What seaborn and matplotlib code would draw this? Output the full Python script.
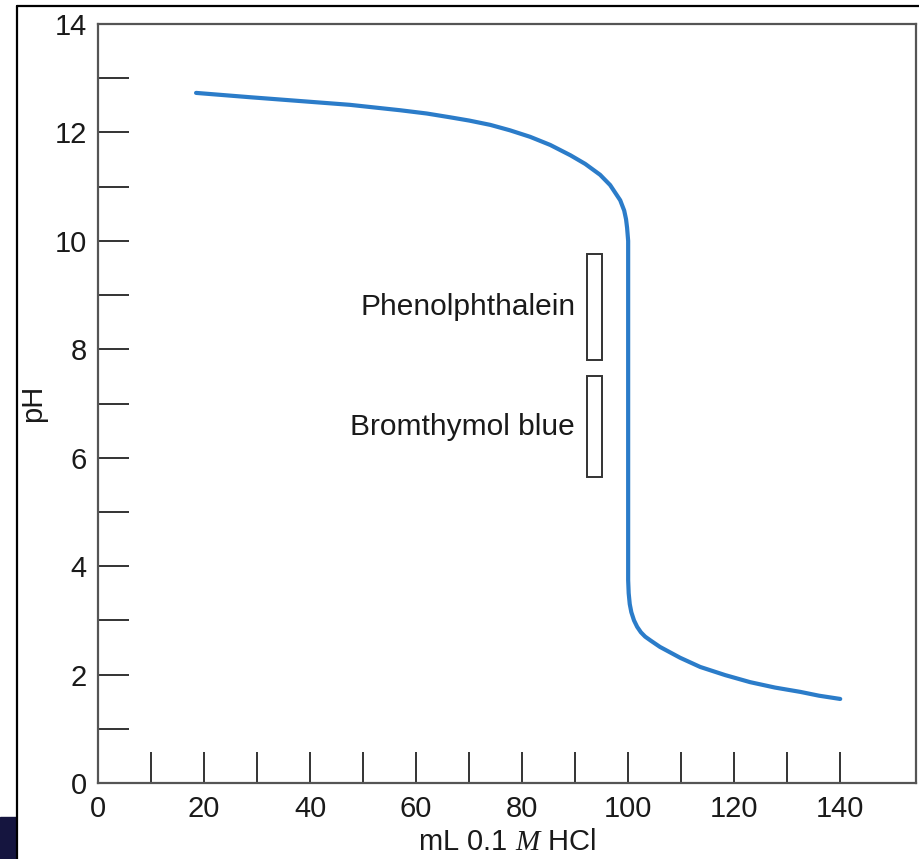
import matplotlib
matplotlib.use("Agg")
import matplotlib.pyplot as plt
from matplotlib.lines import Line2D
from matplotlib.patches import Rectangle
from matplotlib.ticker import MultipleLocator, FixedLocator
import pandas as pd
import seaborn as sns

# titration curve (mL HCl added, pH)
ml_hcl = [18.5, 28.7, 38.1, 47.5, 57.0, 62.0, 66.4, 70.0, 74.0, 77.7, 81.5,
          85.3, 89.1, 91.9, 94.7, 96.6, 98.5, 99.25, 99.6, 99.8, 100, 100,
          100.1, 100.3, 100.6, 101.1, 101.7, 102.4, 103.2, 104.2, 106, 109.8,
          113.6, 118.3, 123, 127.7, 132.5, 136, 140]
ph = [12.73, 12.65, 12.58, 12.51, 12.41, 12.35, 12.28, 12.22, 12.14, 12.04,
      11.92, 11.77, 11.58, 11.42, 11.22, 11.03, 10.75, 10.56, 10.4, 10.24,
      10.0, 3.74, 3.5, 3.3, 3.15, 3.0, 2.88, 2.78, 2.7, 2.63, 2.51, 2.31,
      2.14, 1.99, 1.86, 1.76, 1.68, 1.61, 1.55]

# indicator transition ranges
indicators = ["Phenolphthalein", "Bromthymol blue"]
ph_low = [7.8, 5.65]
ph_high = [9.75, 7.5]

x_major = [0, 20, 40, 60, 80, 100, 120, 140]
x_minor = [10, 30, 50, 70, 90, 110, 130]

df = pd.DataFrame({"ml": ml_hcl, "ph": ph})

sns.set_theme(style="white")
plt.rcParams["font.family"] = ["Liberation Sans", "DejaVu Sans"]
plt.rcParams["mathtext.fontset"] = "custom"
plt.rcParams["mathtext.it"] = "Liberation Serif:italic"
plt.rcParams["mathtext.rm"] = "Liberation Sans"

fig = plt.figure(figsize=(9.2, 8.59), dpi=100)
ax = fig.add_axes([0.1065, 0.0885, 0.8892, 0.8835])

sns.lineplot(data=df, x="ml", y="ph", sort=False, estimator=None,
             color="#2b7cc9", linewidth=3, ax=ax)

box_x, box_w = 92.2, 2.9
for name, lo, hi in zip(indicators, ph_low, ph_high):
    ax.add_patch(Rectangle((box_x, lo), box_w, hi - lo, fill=False,
                           edgecolor="#333333", linewidth=1.4))
    ax.text(box_x - 2.2, (lo + hi) / 2, name, ha="right", va="center",
            fontsize=21.5, color="#1a1a1a")

ax.set_xlim(0, 154.3)
ax.set_ylim(0, 14)
ax.xaxis.set_major_locator(FixedLocator(x_major))
ax.xaxis.set_minor_locator(FixedLocator(x_minor))
ax.yaxis.set_major_locator(MultipleLocator(2))
ax.yaxis.set_minor_locator(MultipleLocator(1))
ax.tick_params(which="both", direction="in", length=22, width=1.4,
               color="#333333", labelsize=21, labelcolor="#1a1a1a",
               bottom=True, left=True, top=False, right=False)
ax.tick_params(axis="y", pad=8)
ax.tick_params(axis="x", pad=9)

for sp in ax.spines.values():
    sp.set_color("#555555")
    sp.set_linewidth(1.6)

ax.set_xlabel("mL 0.1 $M$ HCl", fontsize=21, color="#1a1a1a", labelpad=3)
ax.set_ylabel("pH", fontsize=21, color="#1a1a1a", labelpad=5)

# screenshot frame around the figure
fig.add_artist(Line2D([17 / 920, 1], [1 - 6 / 859, 1 - 6 / 859],
                      color="black", linewidth=1.6))
fig.add_artist(Line2D([17 / 920, 17 / 920], [0, 1 - 6 / 859],
                      color="black", linewidth=1.6))
fig.add_artist(Rectangle((0, 0), 16 / 920, 42 / 859, color="#15153f",
                         transform=fig.transFigure))

fig.savefig("out.png", dpi=100)
